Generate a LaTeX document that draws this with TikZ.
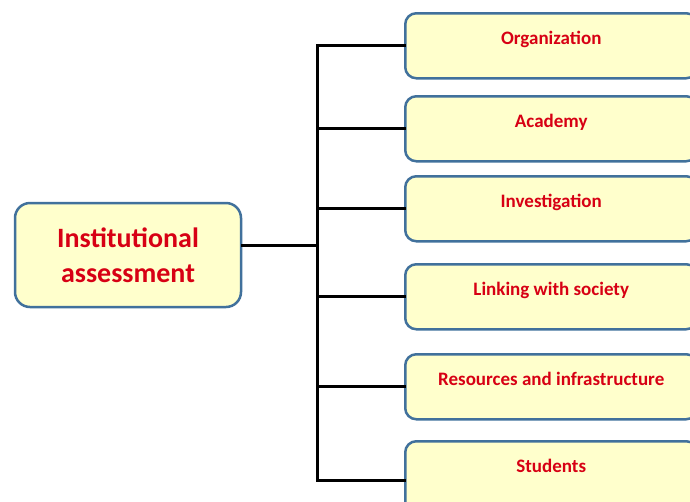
\documentclass[tikz,border=0pt]{standalone}
\usepackage{fontspec}
\setmainfont{Carlito}
\usepackage{tikz}

\definecolor{boxline}{RGB}{65,113,156}
\definecolor{boxfill}{RGB}{255,255,204}
\definecolor{labelred}{RGB}{215,0,20}

\begin{document}
\begin{tikzpicture}[x=1pt,y=-1pt,
    mainbox/.style={shape=rectangle,rounded corners=15pt,draw=boxline,line width=2.5pt,
      fill=boxfill,text=labelred,font=\fontsize{28}{35}\selectfont\bfseries,align=center,
      minimum width=226pt,minimum height=104pt},
    subbox/.style={shape=rectangle,rounded corners=11pt,draw=boxline,line width=2.5pt,
      fill=boxfill,text=labelred,font=\fontsize{19}{23}\selectfont\bfseries,anchor=north west,
      minimum width=292pt,inner sep=0pt,text height=31pt,text depth=34pt},
    link/.style={line width=3pt,draw=black,line cap=rect}]
        \useasboundingbox (0,0) rectangle (690,501);

        \node[mainbox] (IA) at (128,255) {Institutional\\assessment};
        \node[subbox] (Org) at (404,12) {Organization};
        \node[subbox] (Aca) at (404,95) {Academy};
        \node[subbox] (Inv) at (404,175) {Investigation};
        \node[subbox] (Lnk) at (404,263) {Linking with society};
        \node[subbox] (Res) at (404,353) {Resources and infrastructure};
        \node[subbox,text depth=47pt] (Stu) at (404,440) {Students};

        \coordinate (S) at (317,245);

        \draw [link](IA.east |- S) -- (S);
        \draw [link](S |- Org.west) -- (S |- Stu.west);
        \draw [link](S |- Org.west) -- (Org.west);
        \draw [link](S |- Aca.west) -- (Aca.west);
        \draw [link](S |- Inv.west) -- (Inv.west);
        \draw [link](S |- Lnk.west) -- (Lnk.west);
        \draw [link](S |- Res.west) -- (Res.west);
        \draw [link](S |- Stu.west) -- (Stu.west);
    \end{tikzpicture}
\end{document}
